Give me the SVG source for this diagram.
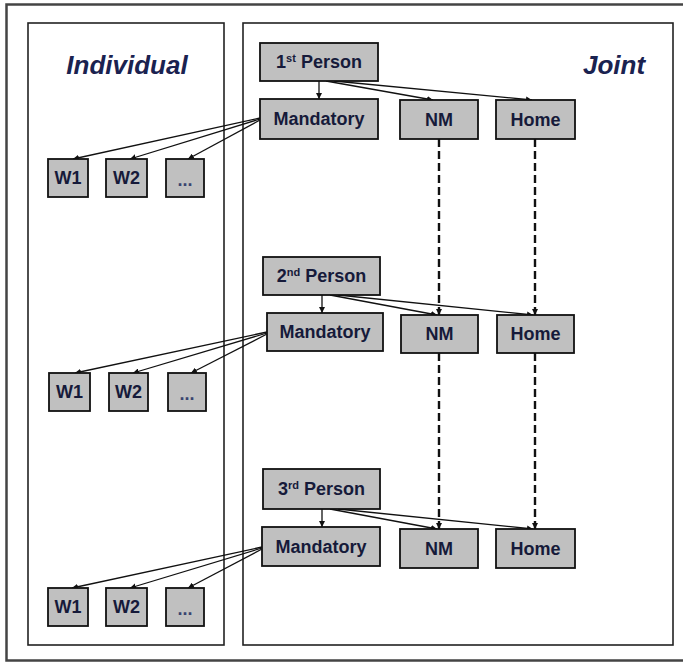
<svg xmlns="http://www.w3.org/2000/svg" width="683" height="662" viewBox="0 0 683 662">
  <defs>
    <marker id="ah" viewBox="0 0 10 10" refX="10" refY="5" markerWidth="6" markerHeight="6" markerUnits="userSpaceOnUse" orient="auto">
      <path d="M0,0 L10,5 L0,10 z" fill="#111"/>
    </marker>
    <style>
      .frame { fill: none; stroke: #444; stroke-width: 2.5; }
      .panel { fill: #fff; stroke: #222; stroke-width: 1.6; }
      .box { fill: #c0c0c0; stroke: #111; stroke-width: 1.8; }
      .lbl { font-family: "Liberation Sans", Arial, sans-serif; font-weight: bold; font-size: 18px; fill: #161a3a; text-anchor: middle; }
      .sup { font-size: 11px; }
      .title { font-family: "Liberation Sans", Arial, sans-serif; font-weight: bold; font-style: italic; font-size: 26px; fill: #1a2250; }
      .solid { fill: none; stroke: #111; stroke-width: 1.3; marker-end: url(#ah); }
      .dash { fill: none; stroke: #111; stroke-width: 2.4; stroke-dasharray: 8 4; marker-end: url(#ah); }
    </style>
  </defs>

  <rect width="683" height="662" fill="#fff"/>

  <!-- outer frame (runs off the right edge) -->
  <path class="frame" d="M690,4.5 H6.5 V660.5 H690"/>

  <!-- panels -->
  <g id="panel-individual">
    <rect class="panel" x="28" y="23" width="196" height="622"/>
    <text class="title" x="127" y="74" text-anchor="middle">Individual</text>
  </g>
  <g id="panel-joint">
    <rect class="panel" x="243" y="23" width="430" height="622"/>
    <text class="title" x="614" y="74" text-anchor="middle">Joint</text>
  </g>

  <!-- connectors -->
  <g id="connectors">
    <!-- row 1 -->
    <line class="solid" x1="319" y1="81" x2="319" y2="99"/>
    <line class="solid" x1="326" y1="81" x2="433" y2="100"/>
    <line class="solid" x1="334" y1="81" x2="532" y2="100"/>
    <line class="solid" x1="260" y1="118" x2="73" y2="159"/>
    <line class="solid" x1="260" y1="119" x2="130" y2="159"/>
    <line class="solid" x1="260" y1="120" x2="188" y2="159"/>
    <line class="dash" x1="439" y1="139" x2="439" y2="315"/>
    <line class="dash" x1="535" y1="139" x2="535" y2="315"/>
    <!-- row 2 -->
    <line class="solid" x1="322" y1="295" x2="322" y2="313"/>
    <line class="solid" x1="330" y1="295" x2="437" y2="315"/>
    <line class="solid" x1="338" y1="295" x2="533" y2="315"/>
    <line class="solid" x1="267" y1="332" x2="75" y2="373"/>
    <line class="solid" x1="267" y1="333" x2="133" y2="373"/>
    <line class="solid" x1="267" y1="334" x2="191" y2="373"/>
    <line class="dash" x1="439" y1="353" x2="439" y2="529"/>
    <line class="dash" x1="535" y1="353" x2="535" y2="529"/>
    <!-- row 3 -->
    <line class="solid" x1="322" y1="509" x2="322" y2="527"/>
    <line class="solid" x1="330" y1="509" x2="437" y2="529"/>
    <line class="solid" x1="338" y1="509" x2="533" y2="529"/>
    <line class="solid" x1="262" y1="547" x2="72" y2="588"/>
    <line class="solid" x1="262" y1="548" x2="130" y2="588"/>
    <line class="solid" x1="262" y1="549" x2="188" y2="588"/>
  </g>

  <!-- row 1 nodes -->
  <g id="person1"><rect class="box" x="260" y="43" width="118" height="38"/>
    <text class="lbl" x="319" y="68">1<tspan class="sup" dy="-6">st</tspan><tspan dy="6"> Person</tspan></text></g>
  <g id="mandatory1"><rect class="box" x="260" y="99" width="118" height="40"/>
    <text class="lbl" x="319" y="125">Mandatory</text></g>
  <g id="nm1"><rect class="box" x="400" y="100" width="78" height="39"/>
    <text class="lbl" x="439" y="126">NM</text></g>
  <g id="home1"><rect class="box" x="496" y="100" width="79" height="39"/>
    <text class="lbl" x="535.5" y="126">Home</text></g>
  <g id="w1-1"><rect class="box" x="48" y="159" width="40" height="38"/>
    <text class="lbl" x="68" y="184">W1</text></g>
  <g id="w2-1"><rect class="box" x="106" y="159" width="41" height="38"/>
    <text class="lbl" x="126.5" y="184">W2</text></g>
  <g id="more-1"><rect class="box" x="166" y="159" width="38" height="38"/>
    <text class="lbl" x="185" y="186" style="fill:#3a4470">...</text></g>

  <!-- row 2 nodes -->
  <g id="person2"><rect class="box" x="263" y="257" width="117" height="38"/>
    <text class="lbl" x="321.5" y="282">2<tspan class="sup" dy="-6">nd</tspan><tspan dy="6"> Person</tspan></text></g>
  <g id="mandatory2"><rect class="box" x="267" y="313" width="116" height="38"/>
    <text class="lbl" x="325" y="338">Mandatory</text></g>
  <g id="nm2"><rect class="box" x="401" y="315" width="77" height="38"/>
    <text class="lbl" x="439.5" y="340">NM</text></g>
  <g id="home2"><rect class="box" x="497" y="315" width="77" height="38"/>
    <text class="lbl" x="535.5" y="340">Home</text></g>
  <g id="w1-2"><rect class="box" x="49" y="373" width="41" height="38"/>
    <text class="lbl" x="69.5" y="398">W1</text></g>
  <g id="w2-2"><rect class="box" x="109" y="373" width="39" height="38"/>
    <text class="lbl" x="128.5" y="398">W2</text></g>
  <g id="more-2"><rect class="box" x="168" y="373" width="38" height="38"/>
    <text class="lbl" x="187" y="400" style="fill:#3a4470">...</text></g>

  <!-- row 3 nodes -->
  <g id="person3"><rect class="box" x="263" y="469" width="117" height="40"/>
    <text class="lbl" x="321.5" y="495">3<tspan class="sup" dy="-6">rd</tspan><tspan dy="6"> Person</tspan></text></g>
  <g id="mandatory3"><rect class="box" x="262" y="527" width="118" height="39"/>
    <text class="lbl" x="321" y="553">Mandatory</text></g>
  <g id="nm3"><rect class="box" x="400" y="529" width="78" height="39"/>
    <text class="lbl" x="439" y="555">NM</text></g>
  <g id="home3"><rect class="box" x="496" y="529" width="79" height="39"/>
    <text class="lbl" x="535.5" y="555">Home</text></g>
  <g id="w1-3"><rect class="box" x="48" y="588" width="40" height="38"/>
    <text class="lbl" x="68" y="613">W1</text></g>
  <g id="w2-3"><rect class="box" x="106" y="588" width="41" height="38"/>
    <text class="lbl" x="126.5" y="613">W2</text></g>
  <g id="more-3"><rect class="box" x="166" y="588" width="38" height="38"/>
    <text class="lbl" x="185" y="615" style="fill:#3a4470">...</text></g>
</svg>
